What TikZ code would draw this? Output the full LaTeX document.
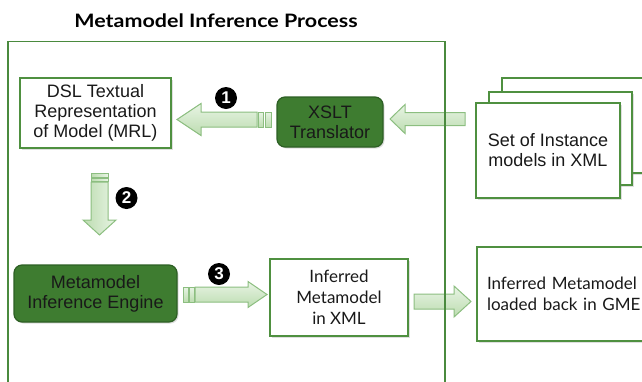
\documentclass[tikz,border=0pt]{standalone}
\usepackage{fontspec}
\setsansfont{Liberation Sans}
\newfontfamily\gillf{Lato}
\newfontfamily\gillwide[FakeStretch=1.16]{Lato}
\usetikzlibrary{calc,shadows}
\definecolor{frameg}{RGB}{74,138,62}
\definecolor{boxg}{RGB}{79,144,64}
\definecolor{darkg}{RGB}{62,124,48}
\definecolor{darkgb}{RGB}{45,95,36}
\definecolor{arrb}{RGB}{140,190,128}
\definecolor{arrtop}{RGB}{232,244,228}
\definecolor{arrbot}{RGB}{188,220,176}
\tikzset{
  every node/.style={font=\sffamily\fontsize{18}{20}\selectfont, text=black!90},
  frameline/.style={draw=frameg, line width=1.3pt},
  whitebox/.style={draw=boxg, line width=1.8pt, fill=white, inner sep=0pt, align=center,
     drop shadow={opacity=0.25, shadow xshift=1.5pt, shadow yshift=-1.5pt}},
  darkbox/.style={draw=darkgb, line width=1.2pt, fill=darkg, rounded corners=8pt, inner sep=0pt, align=center,
     drop shadow={opacity=0.25, shadow xshift=1.5pt, shadow yshift=-1.5pt}},
  blockarrow/.style={draw=arrb, line width=1pt, top color=arrtop, bottom color=arrbot, line join=miter},
  blockarrowv/.style={draw=arrb, line width=1pt, left color=arrbot, right color=arrtop, line join=miter},
  stripe/.style={draw=arrb, line width=0.8pt, top color=arrtop, bottom color=arrbot},
  stripev/.style={draw=arrb, line width=0.8pt, left color=arrbot, right color=arrtop},
  badge/.style={circle, fill=black, minimum size=22pt, inner sep=0pt,
     font=\sffamily\bfseries\fontsize{17}{17}\selectfont, text=white},
  gilltext/.style={font=\gillf\fontsize{17}{21}\selectfont}
}
% horizontal block arrow: tail, tip, half shaft, half head, head length
\newcommand\harrow[5]{%
  \path[blockarrow] let \p1=(#1), \p2=(#2), \n1={sign(\x2-\x1)} in
   (\x1,\y2+#3) -- (\x2-\n1*#5,\y2+#3) -- (\x2-\n1*#5,\y2+#4) -- (\x2,\y2)
   -- (\x2-\n1*#5,\y2-#4) -- (\x2-\n1*#5,\y2-#3) -- (\x1,\y2-#3) -- cycle;}
% vertical block arrow
\newcommand\varrow[5]{%
  \path[blockarrowv] let \p1=(#1), \p2=(#2), \n1={sign(\y2-\y1)} in
   (\x2+#3,\y1) -- (\x2+#3,\y2-\n1*#5) -- (\x2+#4,\y2-\n1*#5) -- (\x2,\y2)
   -- (\x2-#4,\y2-\n1*#5) -- (\x2-#3,\y2-\n1*#5) -- (\x2-#3,\y1) -- cycle;}
\begin{document}
\begin{tikzpicture}[x=1pt,y=-1pt]
\useasboundingbox (0,0) rectangle (642,381);
\clip (0,0) rectangle (642,381);
% title
\node[font=\gillwide\bfseries\fontsize{18.5}{18.5}\selectfont, text=black] (title) at (216,21) {Metamodel Inference Process};
% boxes
\node[whitebox, minimum width=151pt, minimum height=70pt] (dsl) at (95.5,113)
  {DSL Textual\\Representation\\of Model (MRL)};
\node[darkbox, minimum width=106pt, minimum height=50pt] (xslt) at (330,122)
  {XSLT\\Translator};
% stack of instance models
\node[whitebox, minimum width=160pt, minimum height=95pt] (inst3) at (582,125.5) {};
\node[whitebox, minimum width=143pt, minimum height=93pt] (inst2) at (560.5,138.5) {};
\node[whitebox, minimum width=144pt, minimum height=95pt] (inst1) at (548,150.5)
  {Set of Instance\\models in XML};
\node[darkbox, minimum width=163pt, minimum height=57pt] (engine) at (95.5,293.5)
  {Metamodel\\Inference Engine};
\node[whitebox, gilltext, minimum width=138pt, minimum height=77pt] (infxml) at (339,297.5)
  {Inferred\\Metamodel\\in XML};
\node[whitebox, gilltext, minimum width=185pt, minimum height=94pt, align=left,
  text width=165pt, inner xsep=9pt] (gme) at (569.5,294)
  {Inferred Metamodel\\loaded back in GME};
% arrow coordinates
\coordinate (a1tail) at (257,119.5);
\coordinate (a1tip) at (177,119.5);
\coordinate (a0tail) at (465,119);
\coordinate (a0tip) at (390,119);
\coordinate (a2tail) at (99.5,182);
\coordinate (a2tip) at (99.5,235);
\coordinate (a3tail) at (195,294.5);
\coordinate (a3tip) at (267,294.5);
\coordinate (a4tail) at (414,301.5);
\coordinate (a4tip) at (471,301.5);
% arrows
\harrow{a1tail}{a1tip}{7.5}{16}{24}
\path[stripe] (258,112) rectangle (263,127);
\path[stripe] (265,112) rectangle (271,127);
\harrow{a0tail}{a0tip}{6.5}{14.5}{15}
\varrow{a2tail}{a2tip}{8.5}{16.5}{15}
\path[stripev] (91,173) rectangle (108,177);
\path[stripev] (91,178) rectangle (108,181.5);
\harrow{a3tail}{a3tip}{7.5}{13}{19}
\path[stripe] (183,287) rectangle (188,302);
\path[stripe] (189.5,287) rectangle (194,302);
\harrow{a4tail}{a4tip}{7.5}{15.5}{17}
% badges
\node[badge] (b1) at (226,98) {1};
\node[badge] (b2) at (126.5,198) {2};
\node[badge] (b3) at (219,274) {3};
% frame
\draw[frameline] (8,400) -- (8,41.5) -- (445,41.5) -- (445,400);
\end{tikzpicture}
\end{document}
